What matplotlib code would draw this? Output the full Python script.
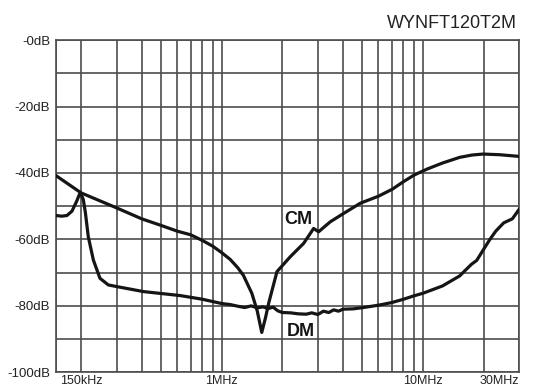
import matplotlib.pyplot as plt
from matplotlib.ticker import FixedLocator, NullFormatter
from matplotlib.transforms import ScaledTranslation

plt.rcParams['font.family'] = ['Liberation Sans', 'DejaVu Sans']

# frequency in MHz, attenuation in dB
cm_freq = [0.15, 0.2, 0.3, 0.4, 0.5, 0.6, 0.7, 0.8, 0.9, 1.0, 1.1, 1.2, 1.28, 1.41, 1.5,
           1.58, 1.65, 1.71, 1.88, 2.19, 2.55, 2.86, 3.03, 3.15, 3.46, 4.0, 4.88, 6.0,
           7.03, 8.0, 9.05, 10.5, 12.5, 15.2, 17.5, 19.9, 24.0, 30.0]
cm_db = [-40.8, -46.0, -50.5, -53.8, -55.8, -57.5, -58.6, -60.3, -62.0, -64.0, -66.0, -68.5,
         -70.8, -76.2, -81.5, -88.0, -83.5, -79.2, -69.7, -65.2, -61.2, -56.7, -57.7, -56.8,
         -54.7, -52.3, -49.1, -47.0, -44.9, -42.6, -40.6, -38.8, -37.0, -35.3, -34.6, -34.3,
         -34.5, -35.0]

dm_freq = [0.15, 0.16, 0.17, 0.18, 0.19, 0.198, 0.205, 0.21, 0.217, 0.23, 0.248, 0.273,
           0.301, 0.408, 0.621, 0.8, 1.0, 1.1, 1.2, 1.3, 1.4, 1.5, 1.6, 1.7, 1.8, 1.9, 2.0,
           2.2, 2.4, 2.63, 2.8, 3.0, 3.2, 3.4, 3.6, 3.8, 4.0, 4.5, 5.05, 6.0, 7.0, 8.0, 9.0,
           10.0, 12.5, 15.2, 17.4, 18.5, 20.0, 21.5, 23.0, 25.2, 27.8, 30.0]
dm_db = [-52.8, -53.0, -52.8, -51.5, -48.5, -45.8, -48.0, -52.0, -59.2, -66.2, -71.7, -73.7,
         -74.2, -75.7, -76.9, -78.0, -79.3, -79.6, -80.1, -80.5, -80.0, -80.6, -80.3, -80.8,
         -80.4, -81.5, -82.0, -82.1, -82.4, -82.5, -82.1, -82.6, -81.6, -82.0, -81.2, -81.6,
         -81.0, -80.9, -80.5, -79.8, -79.0, -78.0, -77.0, -76.2, -74.0, -71.0, -67.5, -66.3,
         -63.0, -60.0, -57.5, -55.0, -53.8, -51.0]

x_ticks = [0.15, 1, 10, 30]
x_labels = ['150kHz', '1MHz', '10MHz', '30MHz']
x_minor = [0.2, 0.3, 0.4, 0.5, 0.6, 0.7, 0.8, 0.9, 2, 3, 4, 5, 6, 7, 8, 9, 20]
y_ticks = [0, -20, -40, -60, -80, -100]
y_labels = ['-0dB', '-20dB', '-40dB', '-60dB', '-80dB', '-100dB']
y_minor = [-10, -30, -50, -70, -90]

fig = plt.figure(figsize=(5.34, 3.89), dpi=100)
ax = fig.add_axes([0.1049, 0.0429, 0.867, 0.854])

ax.plot(cm_freq, cm_db, color='#151515', lw=2.3, zorder=3)
ax.plot(dm_freq, dm_db, color='#151515', lw=2.3, zorder=3)

ax.set_xscale('log')
ax.set_xlim(0.15, 30)
ax.set_ylim(-100, 0)

ax.xaxis.set_major_locator(FixedLocator(x_ticks))
ax.xaxis.set_minor_locator(FixedLocator(x_minor))
ax.xaxis.set_minor_formatter(NullFormatter())
ax.set_xticklabels(x_labels)
ax.yaxis.set_major_locator(FixedLocator(y_ticks))
ax.yaxis.set_minor_locator(FixedLocator(y_minor))
ax.set_yticklabels(y_labels)

ax.grid(True, which='both', color='#4d4d4d', lw=1.2)
ax.tick_params(which='both', length=0, labelsize=9.5, colors='#222222')
ax.tick_params(axis='x', pad=2, labelsize=9)
ax.tick_params(axis='y', pad=4.3)
lbls = ax.get_xticklabels()
lbls[0].set_ha('left')
lbls[0].set_transform(lbls[0].get_transform() + ScaledTranslation(4.5 / 100, 0, fig.dpi_scale_trans))
lbls[-1].set_ha('right')

for s in ax.spines.values():
    s.set_color('#4d4d4d')
    s.set_linewidth(1.2)

ax.text(2.39, -54, 'CM', fontsize=13, fontweight='bold', ha='center', va='center', color='#151515')
ax.text(2.48, -87.7, 'DM', fontsize=13, fontweight='bold', ha='center', va='center', color='#151515')
fig.text(0.9676, 0.940, 'WYNFT120T2M', fontsize=13, ha='right', va='center', color='#222222')

plt.savefig('out.png', dpi=100)
